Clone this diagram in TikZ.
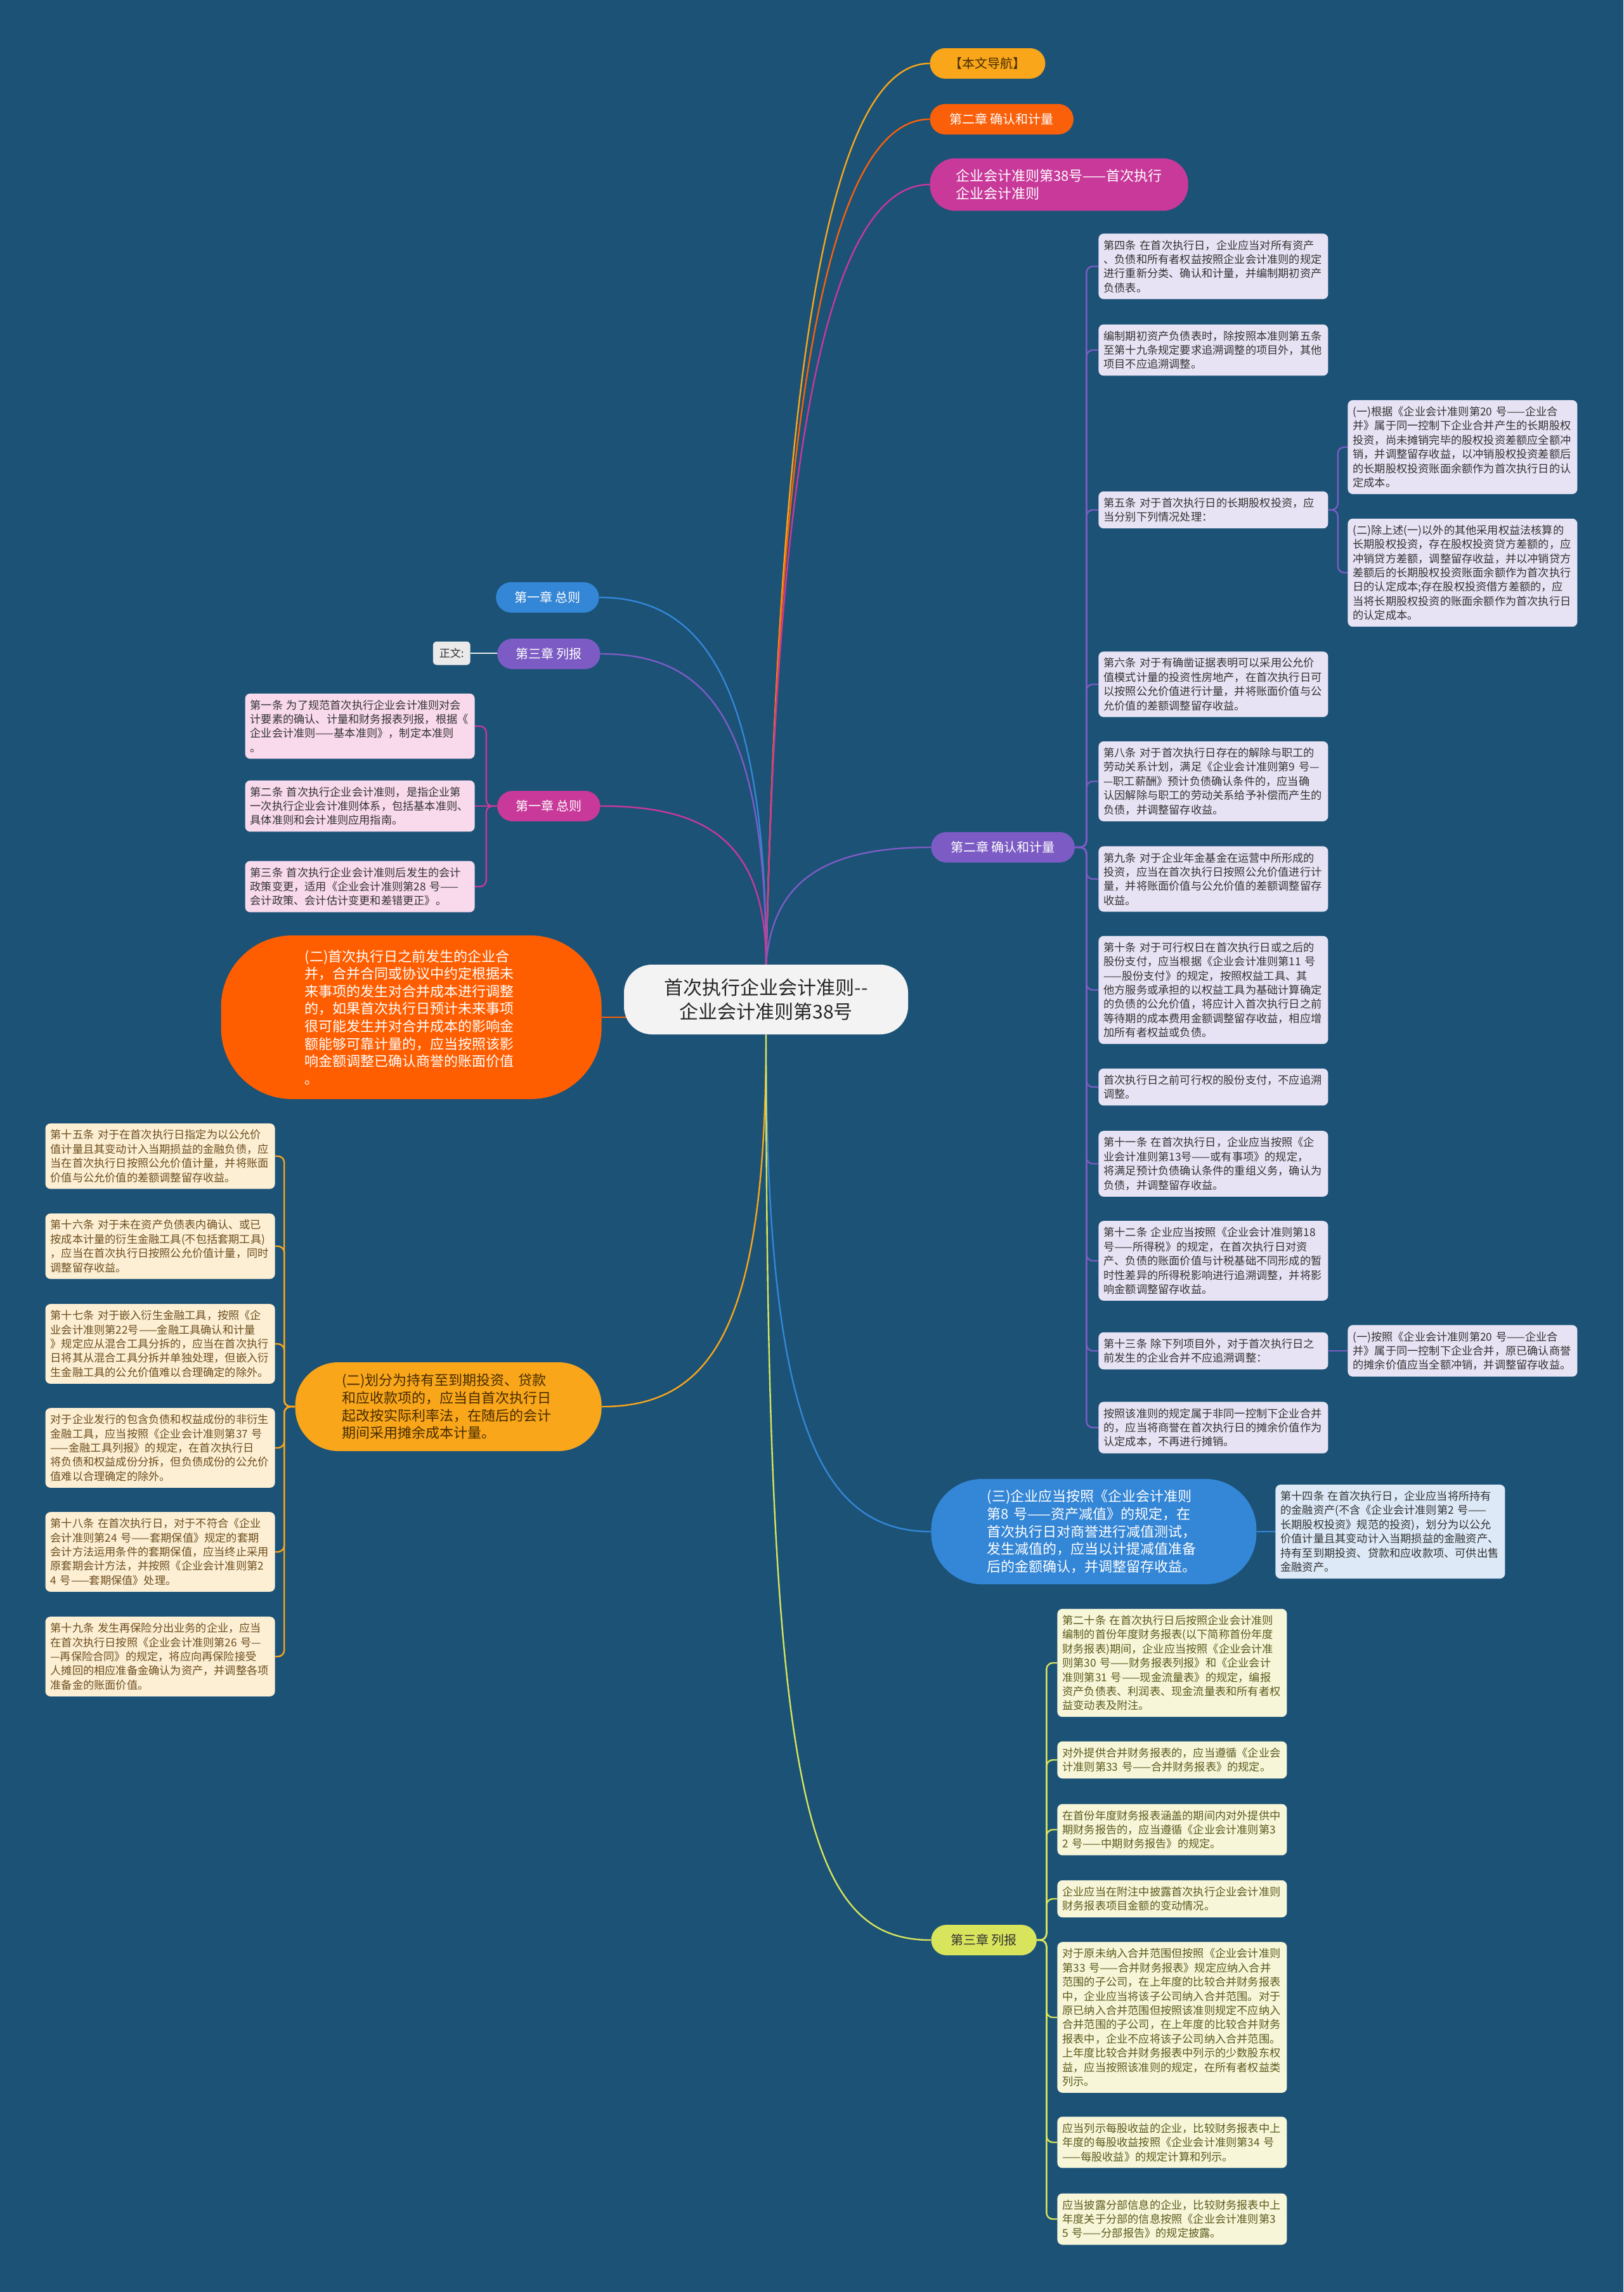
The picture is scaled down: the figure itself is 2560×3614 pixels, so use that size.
\documentclass[tikz,border=0pt]{standalone}
\usepackage{fontspec}
\setmainfont{Noto Sans CJK SC}
\usepackage{xcolor}
\usepackage{tikz}
\usetikzlibrary{backgrounds}
\definecolor{AccBg}{RGB}{27, 82, 118}
\definecolor{AccAmber}{RGB}{250, 166, 26}
\definecolor{AccFlame}{RGB}{250, 96, 10}
\definecolor{AccOrange}{RGB}{255, 94, 0}
\definecolor{AccMagenta}{RGB}{200, 57, 154}
\definecolor{AccBlue}{RGB}{52, 134, 214}
\definecolor{AccPurple}{RGB}{124, 92, 196}
\definecolor{AccLime}{RGB}{216, 228, 92}
\definecolor{AccRoot}{RGB}{243, 243, 243}
\definecolor{AccTag}{RGB}{234, 234, 234}
\definecolor{AccLilac}{RGB}{232, 227, 244}
\definecolor{AccPink}{RGB}{249, 217, 236}
\definecolor{AccCream}{RGB}{252, 239, 212}
\definecolor{AccIvory}{RGB}{247, 246, 216}
\definecolor{AccSky}{RGB}{221, 233, 247}
\definecolor{AccInk}{RGB}{51, 51, 51}
\definecolor{AccBrown}{RGB}{110, 78, 30}
\definecolor{AccOlive}{RGB}{92, 90, 30}
\definecolor{AccDark}{RGB}{70, 45, 0}

\tikzset{
  rootnode/.style={fill=AccRoot, text=black!85, align=center, font=\fontsize{15}{19}\selectfont,
    minimum width=224pt, minimum height=55pt, rounded corners=22pt},
  toppill/.style={anchor=west, rounded corners=12pt, minimum height=24pt, inner xsep=15.5pt,
    font=\fontsize{10}{12}\selectfont},
  leftpill/.style={anchor=east, text=white, rounded corners=12pt, minimum height=24pt,
    inner xsep=14.5pt, font=\fontsize{10}{12}\selectfont},
  tagbox/.style={anchor=east, fill=AccTag, text=AccInk, rounded corners=3pt, minimum height=18.5pt,
    inner xsep=5pt, font=\fontsize{8.5}{10}\selectfont},
  bignode/.style={align=left, text width=168pt, font=\fontsize{11}{13.8}\selectfont},
  leafbox/.style={rounded corners=4pt, inner xsep=4pt, inner ysep=5pt, text width=173pt,
    align=left, font=\fontsize{8.6}{11.2}\selectfont},
  lilacbox/.style={leafbox, anchor=west, fill=AccLilac, text=AccInk},
  skybox/.style={leafbox, anchor=west, fill=AccSky, text=AccInk},
  ivorybox/.style={leafbox, anchor=west, fill=AccIvory, text=AccOlive},
  pinkbox/.style={leafbox, anchor=east, fill=AccPink, text=AccInk},
  creambox/.style={leafbox, anchor=east, fill=AccCream, text=AccBrown},
  branchline/.style={line width=1.2pt},
  forkline/.style={line width=1.2pt, rounded corners=5pt},
}

\begin{document}
\begin{tikzpicture}[x=0.5pt,y=-0.5pt]
  \path[use as bounding box] (0,0) rectangle (2560,3614);

  % root
  \node[rootnode] (root) at (1208,1576) {首次执行企业会计准则-{}-\\企业会计准则第38号};

  % top branches
  \node[toppill, fill=AccAmber, text=AccDark] (nav) at (1466,100) {【本文导航】};
  \node[toppill, fill=AccFlame, text=white] (chtwotop) at (1466,188) {第二章 确认和计量};
  \node[toppill, fill=AccMagenta, text=white, align=left, inner xsep=20.5pt, inner ysep=8.5pt,
    rounded corners=20pt, font=\fontsize{11}{14.2}\selectfont] (std) at (1466,291)
    {企业会计准则第38号——首次执行\\企业会计准则};

  % left branches
  \node[leftpill, fill=AccBlue] (gone) at (945,942) {第一章 总则};
  \node[leftpill, fill=AccPurple] (gthree) at (947,1031) {第三章 列报};
  \node[tagbox] (zw) at (742,1030) {正文:};
  \node[leftpill, fill=AccMagenta] (gmag) at (947,1271) {第一章 总则};

  \node[pinkbox] (pone) at (749,1145) {第一条 为了规范首次执行企业会计准则对会\\
    计要素的确认、计量和财务报表列报，根据《\\企业会计准则——基本准则》，制定本准则\\。};
  \node[pinkbox] (ptwo) at (749,1271) {第二条 首次执行企业会计准则，是指企业第\\
    一次执行企业会计准则体系，包括基本准则、\\具体准则和会计准则应用指南。};
  \node[pinkbox] (pthree) at (749,1398) {第三条 首次执行企业会计准则后发生的会计\\
    政策变更，适用《企业会计准则第28 号——\\会计政策、会计估计变更和差错更正》。};

  % (二) business combination
  \node[bignode, anchor=east, fill=AccOrange, text=white, minimum width=300pt, minimum height=129pt,
    rounded corners=56pt] (merge) at (949,1604)
    {(二)首次执行日之前发生的企业合\\并，合并合同或协议中约定根据未\\来事项的发生对合并成本进行调整\\
     的，如果首次执行日预计未来事项\\很可能发生并对合并成本的影响金\\额能够可靠计量的，应当按照该影\\
     响金额调整已确认商誉的账面价值\\。};

  % (二) held-to-maturity
  \node[bignode, anchor=east, fill=AccAmber, text=AccDark, minimum width=241.5pt, minimum height=70pt,
    rounded corners=34pt] (hold) at (949,2218)
    {(二)划分为持有至到期投资、贷款\\和应收款项的，应当自首次执行日\\起改按实际利率法，在随后的会计\\
     期间采用摊余成本计量。};

  \node[creambox] (lfifteen) at (434,1823) {第十五条 对于在首次执行日指定为以公允价\\
    值计量且其变动计入当期损益的金融负债，应\\当在首次执行日按照公允价值计量，并将账面\\
    价值与公允价值的差额调整留存收益。};
  \node[creambox] (lsixteen) at (434,1965) {第十六条 对于未在资产负债表内确认、或已\\
    按成本计量的衍生金融工具(不包括套期工具)\\，应当在首次执行日按照公允价值计量，同时\\
    调整留存收益。};
  \node[creambox] (lseventeen) at (434,2119) {第十七条 对于嵌入衍生金融工具，按照《企\\
    业会计准则第22号——金融工具确认和计量\\》规定应从混合工具分拆的，应当在首次执行\\
    日将其从混合工具分拆并单独处理，但嵌入衍\\生金融工具的公允价值难以合理确定的除外。};
  \node[creambox] (lissue) at (434,2283) {对于企业发行的包含负债和权益成份的非衍生\\
    金融工具，应当按照《企业会计准则第37 号\\——金融工具列报》的规定，在首次执行日\\
    将负债和权益成份分拆，但负债成份的公允价\\值难以合理确定的除外。};
  \node[creambox] (leighteen) at (434,2447) {第十八条 在首次执行日，对于不符合《企业\\
    会计准则第24 号——套期保值》规定的套期\\会计方法运用条件的套期保值，应当终止采用\\
    原套期会计方法，并按照《企业会计准则第2\\4 号——套期保值》处理。};
  \node[creambox] (lnineteen) at (434,2612) {第十九条 发生再保险分出业务的企业，应当\\
    在首次执行日按照《企业会计准则第26 号—\\—再保险合同》的规定，将应向再保险接受\\
    人摊回的相应准备金确认为资产，并调整各项\\准备金的账面价值。};

  % 第二章 确认和计量
  \node[toppill, fill=AccPurple, text=white] (ch2) at (1468,1336) {第二章 确认和计量};

  \node[lilacbox] (bfour) at (1732,420) {第四条 在首次执行日，企业应当对所有资产\\
    、负债和所有者权益按照企业会计准则的规定\\进行重新分类、确认和计量，并编制期初资产\\负债表。};
  \node[lilacbox] (bopen) at (1732,552) {编制期初资产负债表时，除按照本准则第五条\\
    至第十九条规定要求追溯调整的项目外，其他\\项目不应追溯调整。};
  \node[lilacbox] (bfive) at (1732,804) {第五条 对于首次执行日的长期股权投资，应\\
    当分别下列情况处理：};
  \node[lilacbox] (bfiveone) at (2125,705) {(一)根据《企业会计准则第20 号——企业合\\
    并》属于同一控制下企业合并产生的长期股权\\投资，尚未摊销完毕的股权投资差额应全额冲\\
    销，并调整留存收益，以冲销股权投资差额后\\的长期股权投资账面余额作为首次执行日的认\\定成本。};
  \node[lilacbox] (bfivetwo) at (2125,903) {(二)除上述(一)以外的其他采用权益法核算的\\
    长期股权投资，存在股权投资贷方差额的，应\\冲销贷方差额，调整留存收益，并以冲销贷方\\
    差额后的长期股权投资账面余额作为首次执行\\日的认定成本;存在股权投资借方差额的，应\\
    当将长期股权投资的账面余额作为首次执行日\\的认定成本。};
  \node[lilacbox] (bsix) at (1732,1079) {第六条 对于有确凿证据表明可以采用公允价\\
    值模式计量的投资性房地产，在首次执行日可\\以按照公允价值进行计量，并将账面价值与公\\
    允价值的差额调整留存收益。};
  \node[lilacbox] (beight) at (1732,1232) {第八条 对于首次执行日存在的解除与职工的\\
    劳动关系计划，满足《企业会计准则第9 号—\\—职工薪酬》预计负债确认条件的，应当确\\
    认因解除与职工的劳动关系给予补偿而产生的\\负债，并调整留存收益。};
  \node[lilacbox] (bnine) at (1732,1386) {第九条 对于企业年金基金在运营中所形成的\\
    投资，应当在首次执行日按照公允价值进行计\\量，并将账面价值与公允价值的差额调整留存\\收益。};
  \node[lilacbox] (bten) at (1732,1561) {第十条 对于可行权日在首次执行日或之后的\\
    股份支付，应当根据《企业会计准则第11 号\\——股份支付》的规定，按照权益工具、其\\
    他方服务或承担的以权益工具为基础计算确定\\的负债的公允价值，将应计入首次执行日之前\\
    等待期的成本费用金额调整留存收益，相应增\\加所有者权益或负债。};
  \node[lilacbox] (bvested) at (1732,1714) {首次执行日之前可行权的股份支付，不应追溯\\调整。};
  \node[lilacbox] (beleven) at (1732,1835) {第十一条 在首次执行日，企业应当按照《企\\
    业会计准则第13号——或有事项》的规定，\\将满足预计负债确认条件的重组义务，确认为\\
    负债，并调整留存收益。};
  \node[lilacbox] (btwelve) at (1732,1988) {第十二条 企业应当按照《企业会计准则第18\\
    号——所得税》的规定，在首次执行日对资\\产、负债的账面价值与计税基础不同形成的暂\\
    时性差异的所得税影响进行追溯调整，并将影\\响金额调整留存收益。};
  \node[lilacbox] (bthirteen) at (1732,2130) {第十三条 除下列项目外，对于首次执行日之\\
    前发生的企业合并不应追溯调整：};
  \node[lilacbox] (bthirone) at (2125,2130) {(一)按照《企业会计准则第20 号——企业合\\
    并》属于同一控制下企业合并，原已确认商誉\\的摊余价值应当全额冲销，并调整留存收益。};
  \node[lilacbox] (bgoodwill) at (1732,2251) {按照该准则的规定属于非同一控制下企业合并\\
    的，应当将商誉在首次执行日的摊余价值作为\\认定成本，不再进行摊销。};

  % (三) impairment
  \node[bignode, anchor=west, fill=AccBlue, text=white, minimum width=256.5pt, minimum height=83pt,
    rounded corners=40pt] (impair) at (1468,2415)
    {(三)企业应当按照《企业会计准则\\第8 号——资产减值》的规定，在\\首次执行日对商誉进行减值测试，\\
     发生减值的，应当以计提减值准备\\后的金额确认，并调整留存收益。};
  \node[skybox] (bfourteen) at (2011,2415) {第十四条 在首次执行日，企业应当将所持有\\
    的金融资产(不含《企业会计准则第2 号——\\长期股权投资》规范的投资)，划分为以公允\\
    价值计量且其变动计入当期损益的金融资产、\\持有至到期投资、贷款和应收款项、可供出售\\金融资产。};

  % 第三章 列报
  \node[toppill, fill=AccLime, text=AccInk] (ch3) at (1468,3059) {第三章 列报};

  \node[ivorybox] (ctwenty) at (1667,2622) {第二十条 在首次执行日后按照企业会计准则\\
    编制的首份年度财务报表(以下简称首份年度\\财务报表)期间，企业应当按照《企业会计准\\
    则第30 号——财务报表列报》和《企业会计\\准则第31 号——现金流量表》的规定，编报\\
    资产负债表、利润表、现金流量表和所有者权\\益变动表及附注。};
  \node[ivorybox] (cconsol) at (1667,2775) {对外提供合并财务报表的，应当遵循《企业会\\
    计准则第33 号——合并财务报表》的规定。};
  \node[ivorybox] (cinterim) at (1667,2885) {在首份年度财务报表涵盖的期间内对外提供中\\
    期财务报告的，应当遵循《企业会计准则第3\\2 号——中期财务报告》的规定。};
  \node[ivorybox] (cnotes) at (1667,2994) {企业应当在附注中披露首次执行企业会计准则\\
    财务报表项目金额的变动情况。};
  \node[ivorybox] (cscope) at (1667,3181) {对于原未纳入合并范围但按照《企业会计准则\\
    第33 号——合并财务报表》规定应纳入合并\\范围的子公司，在上年度的比较合并财务报表\\
    中，企业应当将该子公司纳入合并范围。对于\\原已纳入合并范围但按照该准则规定不应纳入\\
    合并范围的子公司，在上年度的比较合并财务\\报表中，企业不应将该子公司纳入合并范围。\\
    上年度比较合并财务报表中列示的少数股东权\\益，应当按照该准则的规定，在所有者权益类\\列示。};
  \node[ivorybox] (ceps) at (1667,3378) {应当列示每股收益的企业，比较财务报表中上\\
    年度的每股收益按照《企业会计准则第34 号\\——每股收益》的规定计算和列示。};
  \node[ivorybox] (csegment) at (1667,3499) {应当披露分部信息的企业，比较财务报表中上\\
    年度关于分部的信息按照《企业会计准则第3\\5 号——分部报告》的规定披露。};

  \begin{scope}[on background layer]
    \fill[AccBg] (0,0) rectangle (2560,3614);

    % root to main branches
    \draw[branchline, AccAmber] (root.north) .. controls +(20,-800) and +(-180,0) .. (nav.west);
    \draw[branchline, AccFlame] (root.north) .. controls +(18,-760) and +(-180,0) .. (chtwotop.west);
    \draw[branchline, AccMagenta] (root.north) .. controls +(16,-700) and +(-180,0) .. (std.west);
    \draw[branchline, AccPurple] (root.north) .. controls +(10,-130) and +(-170,0) .. (ch2.west);
    \draw[branchline, AccBlue] (root.north) .. controls +(0,-450) and +(160,0) .. (gone.east);
    \draw[branchline, AccPurple] (root.north) .. controls +(0,-400) and +(160,0) .. (gthree.east);
    \draw[branchline, AccMagenta] (root.north) .. controls +(0,-200) and +(160,0) .. (gmag.east);
    \draw[branchline, AccOrange] (merge.east) -- (merge.east -| root.center);
    \draw[branchline, AccAmber] (root.south) .. controls +(0,450) and +(180,0) .. (hold.east);
    \draw[branchline, AccBlue] (root.south) .. controls +(0,600) and +(-180,0) .. (impair.west);
    \draw[branchline, AccLime] (root.south) .. controls +(0,1200) and +(-200,0) .. (ch3.west);

    % second level
    \draw[branchline, AccTag] (zw.east) -- (zw.east -| gthree.west);
    \foreach \n in {pone,pthree}
      \draw[forkline, AccMagenta] (gmag.west) -- ++(-17,0) |- (\n.east);
    \draw[forkline, AccMagenta] (gmag.west) -- (ptwo.east);
    \foreach \n in {lfifteen,lsixteen,lseventeen,lissue,leighteen,lnineteen}
      \draw[forkline, AccAmber] (hold.west) -- ++(-17,0) |- (\n.east);
    \foreach \n in {bfour,bopen,bfive,bsix,beight,bnine,bten,bvested,beleven,btwelve,bthirteen,bgoodwill}
      \draw[forkline, AccPurple] (ch2.east) -- ++(18,0) |- (\n.west);
    \foreach \n in {bfiveone,bfivetwo}
      \draw[forkline, AccPurple] (bfive.east) -- ++(15,0) |- (\n.west);
    \draw[forkline, AccPurple] (bthirteen.east) -- (bthirone.west);
    \draw[forkline, AccBlue] (impair.east) -- (bfourteen.west);
    \foreach \n in {ctwenty,cconsol,cinterim,cnotes,cscope,ceps,csegment}
      \draw[forkline, AccLime] (ch3.east) -- ++(15,0) |- (\n.west);
  \end{scope}
\end{tikzpicture}
\end{document}
